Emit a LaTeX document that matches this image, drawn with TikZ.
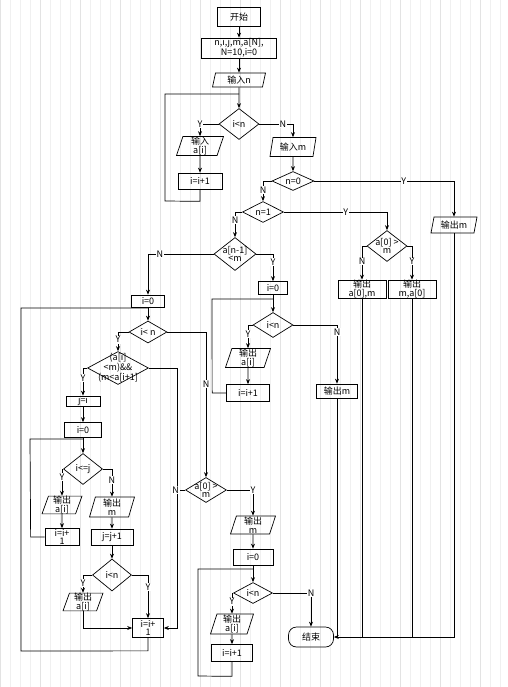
\documentclass[tikz,border=0pt]{standalone}
\usepackage{fontspec}
\setmainfont{Noto Sans CJK SC}
\usetikzlibrary{shapes.geometric,arrows.meta,calc}
\begin{document}
\begin{tikzpicture}[x=1pt,y=-1pt,
  every node/.style={font=\fontsize{9}{8.6}\selectfont, align=center, inner sep=0pt},
  every label/.style={font=\fontsize{9}{8.6}\selectfont, align=center, inner sep=0pt},
  box/.style={draw, rectangle, line width=0.7pt},
  io/.style={draw, trapezium, trapezium left angle=70, trapezium right angle=110, trapezium stretches body, line width=0.7pt},
  dec/.style={draw, diamond, line width=0.7pt},
  term/.style={draw, rectangle, rounded corners=8pt, line width=0.7pt},
  wh/.style 2 args={minimum width=#1pt, minimum height=#2pt},
  arr/.style={-{Stealth[length=5pt,width=4pt]}, line width=0.7pt},
  ln/.style={line width=0.7pt},
  lbl/.style={fill=white, inner sep=0.6pt, font=\fontsize{9}{9}\selectfont}
]
\useasboundingbox (0,0) rectangle (507,687);
\fill[white] (0,0) rectangle (507,687);
\draw[gray!12, line width=0.3pt, step=10] (0,0) grid (507,687);
\draw[gray!22, line width=0.3pt, step=40] (0,0) grid (507,687);

% nodes
\node[box,wh={43}{19}] (start) at (239,17) {开始};
\node[box,wh={75}{20}] (init) at (239,48) {n,i,j,m,a[N],\\N=10,i=0};
\node[io,wh={53}{14}] (inn) at (239,80) {输入n};
\node[dec,wh={40}{31},label={center:i<n}] (d1) at (239,124) {};
\node[io,wh={47}{19}] (ina) at (200,146) {输入\\a[i]};
\node[box,wh={44}{16}] (inc1) at (200,181) {i=i+1};
\node[io,wh={46}{19}] (inm) at (293,147) {输入m};
\node[dec,wh={42}{19},label={center:n=0}] (dn0) at (293,181) {};
\node[io,wh={46}{16}] (outm1) at (454,225) {输出m};
\node[dec,wh={41}{21},label={center:n=1}] (dn1) at (263,212) {};
\node[dec,wh={40}{31},label={center:{a[0] >\\m}}] (da0) at (387,246) {};
\node[box,wh={48}{16}] (outa0m) at (362,289) {输出\\a[0],m};
\node[box,wh={48}{16}] (outma0) at (412,289) {输出\\m,a[0]};
\node[dec,wh={42}{33},label={center:{a[n-1]\\<m}}] (dan) at (235,254) {};
\node[box,wh={33}{12}] (iz1) at (148,301) {i=0};
\node[box,wh={29}{13}] (iz2) at (273,288) {i=0};
\node[dec,wh={38}{22},label={center:i< n}] (dL) at (148,332) {};
\node[dec,wh={61}{33},label={center:{(a[i]\\<m)\&\&\\(m<a[i+1]}}] (dC) at (118,368) {};
\node[box,wh={34}{10}] (ji) at (83,401) {j=i};
\node[box,wh={37}{15}] (iz3) at (83,430) {i=0};
\node[dec,wh={39}{31},label={center:i<=j}] (dij) at (83,469) {};
\node[io,wh={40}{17}] (outai1) at (62,505) {输出\\a[i]};
\node[io,wh={45}{20}] (outm2) at (112,507) {输出\\m};
\node[box,wh={34}{17}] (inc2) at (62,537) {i=i+\\1};
\node[box,wh={42}{16}] (jinc) at (112,537) {j=j+1};
\node[dec,wh={39}{32},label={center:i<n}] (dL2) at (112,575) {};
\node[io,wh={40}{17}] (outai2) at (83,602) {输出\\a[i]};
\node[box,wh={31}{19}] (inc3) at (148,628) {i=i+\\1};
\node[dec,wh={40}{25},label={center:i<n}] (dR) at (273,325) {};
\node[io,wh={45}{19}] (outai3) at (248,358) {输出\\a[i]};
\node[box,wh={43}{17}] (inc4) at (248,393) {i=i+1};
\node[box,wh={41}{14}] (outm3) at (337,391) {输出m};
\node[dec,wh={41}{25},label={center:{a[0] >\\m}}] (da02) at (206,490) {};
\node[io,wh={45}{18}] (outm4) at (253,525) {输出\\m};
\node[box,wh={40}{16}] (iz4) at (253,557) {i=0};
\node[dec,wh={39}{21},label={center:i<n}] (dB) at (253,593) {};
\node[io,wh={43}{20}] (outai4) at (232,624) {输出\\a[i]};
\node[box,wh={41}{17}] (inc5) at (232,653) {i=i+1};
\node[term,wh={45}{20}] (end) at (311,637) {结束};

% top
\draw[arr] (start) -- (init);
\draw[arr] (init) -- (inn);
\draw[arr] (inn) -- (d1);
\draw[arr] (d1.west) -| node[lbl,pos=0.5]{Y} (ina.north);
\draw[arr] (d1.east) -| node[lbl,pos=0.35]{N} (inm.north);
\draw[arr] (ina) -- (inc1);
\draw[ln] (inc1.south) -- ++(0,12) -- (165,201) -- (165,94) -- (239,94);
\draw[arr] (inm) -- (dn0);
\draw[arr] (dn0.east) -| node[lbl,pos=0.32]{Y} (outm1.north);
\draw[arr] (dn0.west) -| node[lbl,pos=0.72]{N} (dn1.north);
\draw[arr] (dn1.east) -| node[lbl,pos=0.3]{Y} (da0.north);
\draw[arr] (dn1.west) -| node[lbl,pos=0.66]{N} (dan.north);
\draw[arr] (da0.west) -| node[lbl,pos=0.73]{N} (outa0m.north);
\draw[arr] (da0.east) -| node[lbl,pos=0.73]{Y} (outma0.north);
\draw[arr] (dan.west) -| node[lbl,pos=0.41]{N} (iz1.north);
\draw[arr] (dan.east) -| node[lbl,pos=0.65]{Y} (iz2.north);

% left branch
\draw[arr] (iz1) -- (dL);
\draw[ln] (inc3.south) -- ++(0,13) -- (21,651) -- (21,308) -- (148,308);
\draw[arr] (dL.west) -| node[lbl,pos=0.7]{Y} (dC.north);
\draw[arr] (dL.east) -| node[lbl,pos=0.68]{N} (da02.north);
\draw[arr] (dC.west) -| node[lbl,pos=0.68]{Y} (ji.north);
\draw[arr] (dC.east) -- ++(28.5,0) |- (inc3.east);
\draw[ln] (da02.west) -- node[lbl,pos=1]{N} ++(-9.5,0);
\draw[arr] (ji) -- (iz3);
\draw[arr] (iz3) -- (dij);
\draw[ln] (inc2.west) -- ++(-14,0) -- (30,439) -- (83,439);
\draw[arr] (dij.west) -| node[lbl,pos=0.65]{Y} (outai1.north);
\draw[arr] (dij.east) -| node[lbl,pos=0.7]{N} (outm2.north);
\draw[arr] (outai1) -- (inc2);
\draw[arr] (outm2) -- (jinc);
\draw[arr] (jinc) -- (dL2);
\draw[arr] (dL2.west) -| node[lbl,pos=0.72]{Y} (outai2.north);
\draw[arr] (dL2.east) -| node[lbl,pos=0.64]{Y} (inc3.north);
\draw[arr] (outai2.south) |- (inc3.west);

% middle-right branch
\draw[arr] (iz2) -- (dR);
\draw[ln] (inc4.west) -- ++(-14,0) -- (212,299) -- (273,299);
\draw[arr] (dR.west) -| node[lbl,pos=0.69]{Y} (outai3.north);
\draw[arr] (outai3) -- (inc4);
\draw[arr] (dR.east) -| node[lbl,pos=0.56]{N} (outm3.north);

% bottom-middle branch
\draw[arr] (da02.east) -| node[lbl,pos=0.5]{Y} (outm4.north);
\draw[arr] (outm4) -- (iz4);
\draw[arr] (iz4) -- (dB);
\draw[ln] (inc5.south) -- ++(0,14.5) -- (198,676) -- (198,569) -- (253,569);
\draw[arr] (dB.west) -| node[lbl,pos=0.71]{Y} (outai4.north);
\draw[arr] (outai4) -- (inc5);
\draw[arr] (dB.east) -| node[lbl,pos=0.5]{N} (end.north);

% to end
\draw[arr] (outm1.south) |- (end.east);
\draw[ln] (outa0m.south) -- (outa0m.south |- end.east);
\draw[ln] (outma0.south) -- (outma0.south |- end.east);
\draw[ln] (outm3.south) -- (outm3.south |- end.east);
\end{tikzpicture}
\end{document}
